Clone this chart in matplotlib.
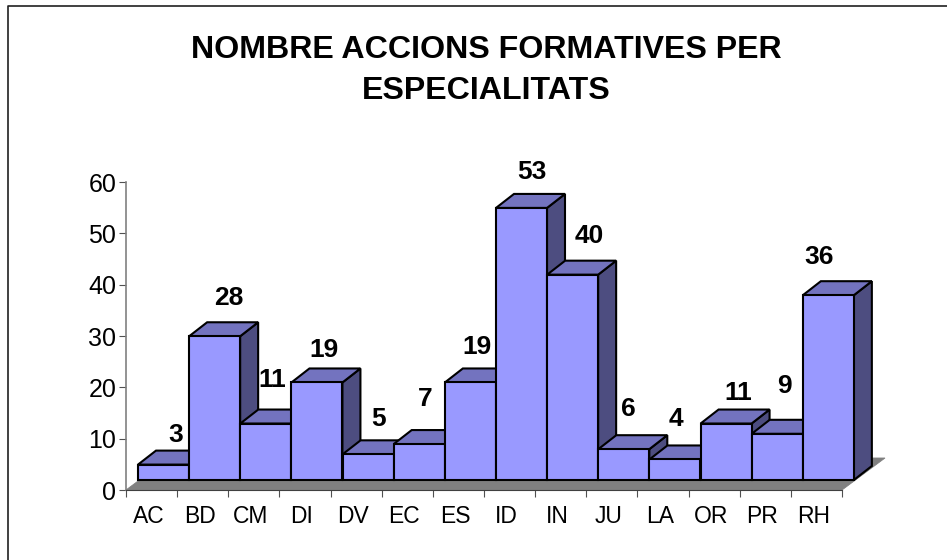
import matplotlib
matplotlib.use("Agg")
import matplotlib.pyplot as plt
from matplotlib.patches import Polygon

plt.rcParams["font.family"] = ["Liberation Sans", "DejaVu Sans"]

categories = ["AC", "BD", "CM", "DI", "DV", "EC", "ES", "ID", "IN", "JU", "LA", "OR", "PR", "RH"]
values = [3, 28, 11, 19, 5, 7, 19, 53, 40, 6, 4, 11, 9, 36]
title = "NOMBRE ACCIONS FORMATIVES PER\nESPECIALITATS"

# label shift from the bar's top centre, in pixels (the original places them oddly)
label_dx = [12, 14, 6, 7, 10, 6, 7, 10, 17, 5, 1, 12, 7, -9]
label_dy = [30, 38, 44, 32, 35, 45, 35, 36, 39, 40, 40, 31, 48, 38]

W, H = 947, 560
fig = plt.figure(figsize=(W / 100, H / 100), dpi=100)

# axes box in pixels: x 126..842, y 182..490
ax = fig.add_axes([126 / W, 1 - 490 / H, (842 - 126) / W, (490 - 182) / H])
ax.set_xlim(0, len(categories))
ax.set_ylim(0, 60)

px_x = len(categories) / (842 - 126)
px_y = 60 / (490 - 182)

front_x, front_y = 12 * px_x, 10 * px_y    # gap from axis to bar front
depth_x, depth_y = 18 * px_x, 14 * px_y    # bar depth
back_x, back_y = 43 * px_x, 32 * px_y      # whole floor depth
bar_w = 51.0 * px_x


def poly(pts, color, lw=1.5, edge="black", z=3):
    ax.add_patch(Polygon(pts, closed=True, facecolor=color, edgecolor=edge,
                         linewidth=lw, joinstyle="miter", zorder=z, clip_on=False))


# floor
n = len(categories)
poly([(0, 0), (n, 0), (n + back_x, back_y), (back_x, back_y)], "#808080", lw=0.6, edge="#808080", z=1)

# bars, left to right so each one covers the side of the previous
for i, v in enumerate(values):
    x0 = i + front_x
    x1 = x0 + bar_w
    y0 = front_y
    y1 = y0 + v
    z = 3 + i
    poly([(x1, y0), (x1 + depth_x, y0 + depth_y), (x1 + depth_x, y1 + depth_y), (x1, y1)], "#4D4D80", z=z)
    poly([(x0, y1), (x1, y1), (x1 + depth_x, y1 + depth_y), (x0 + depth_x, y1 + depth_y)], "#7373BF", z=z)
    poly([(x0, y0), (x1, y0), (x1, y1), (x0, y1)], "#9999FF", z=z)
    ax.annotate(str(v), (x0 + bar_w / 2, y1), xytext=(label_dx[i], label_dy[i]),
                textcoords="offset pixels", ha="center", va="center",
                fontsize=19, fontweight="bold", color="black", zorder=30)

ax.set_xticks(range(n + 1))
ax.set_xticklabels([])
ax.set_xticks([i + 0.5 - 3 * px_x for i in range(n)], labels=categories, minor=True)
ax.tick_params(axis="x", which="minor", length=0, labelsize=16.5, pad=11)
ax.tick_params(axis="x", which="major", length=5, width=0.8, color="#505050")
ax.set_yticks(range(0, 61, 10))
ax.tick_params(axis="y", length=5, width=0.8, color="#505050", labelsize=18, pad=2)

for s in ["top", "right"]:
    ax.spines[s].set_visible(False)
ax.spines["left"].set_color("#808080")
ax.spines["left"].set_linewidth(1.2)
ax.spines["bottom"].set_color("#404040")
ax.spines["bottom"].set_linewidth(0.8)
ax.patch.set_visible(False)

fig.text(486 / W, 1 - 70.5 / H, title, ha="center", va="center", fontsize=23.15,
         fontweight="bold", linespacing=1.46)

# chart border, only left and top fall inside the picture
fig.add_artist(plt.Line2D([8 / W, 8 / W, 1], [0, 1 - 6 / H, 1 - 6 / H], color="#202020", linewidth=1.2))

fig.savefig("out.png", dpi=100)
